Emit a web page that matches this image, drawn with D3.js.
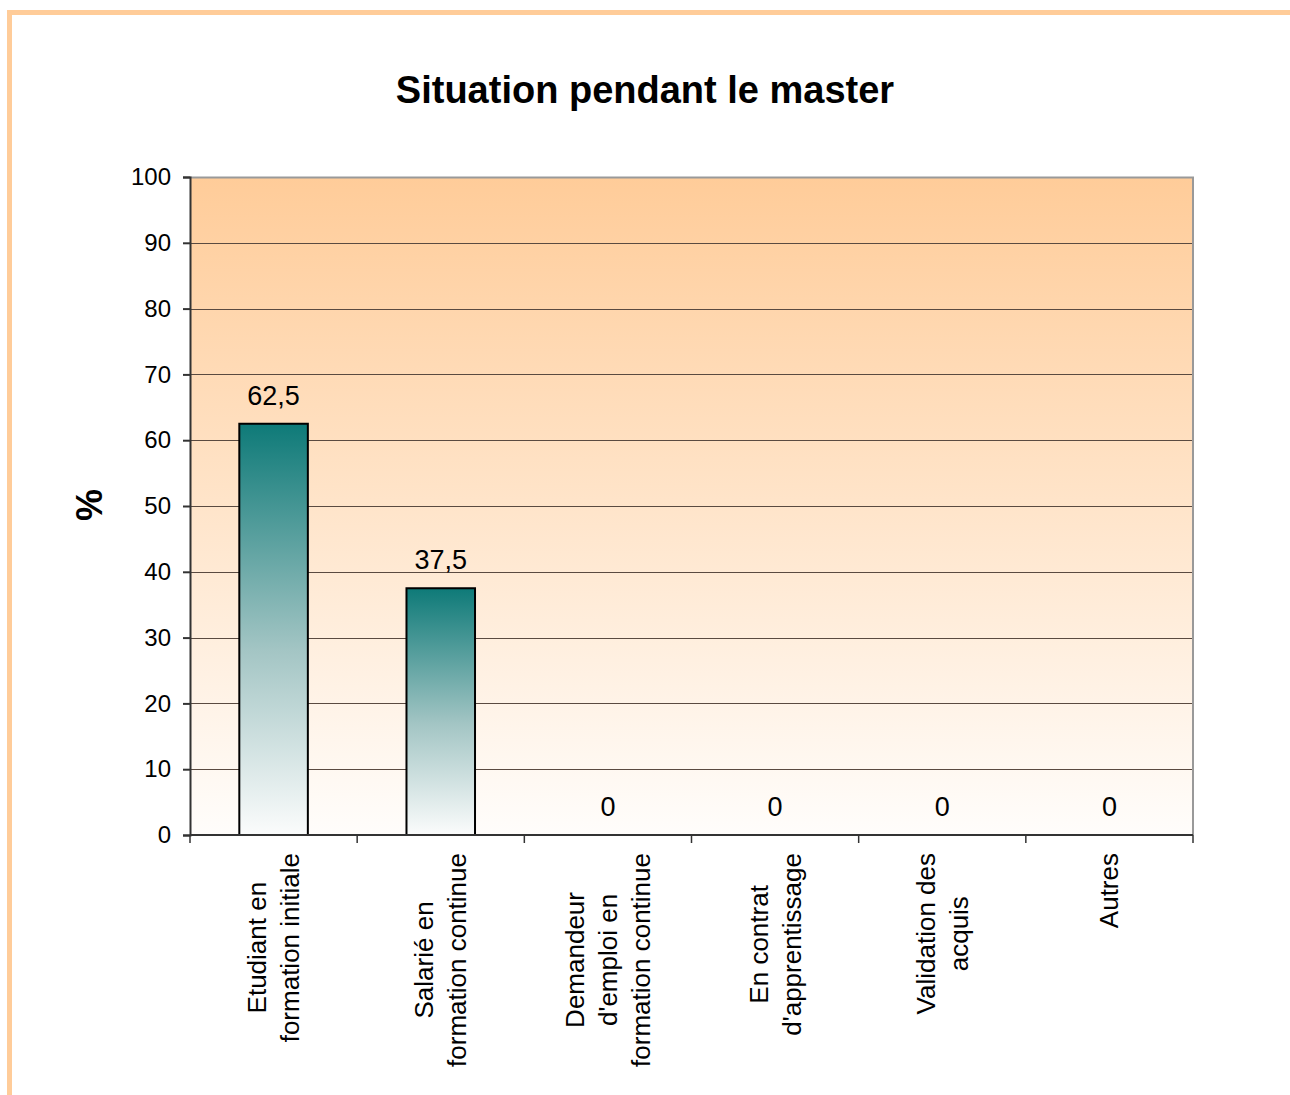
<!DOCTYPE html>
<html>
<head>
<meta charset="utf-8">
<script src="https://cdn.jsdelivr.net/npm/d3@7"></script>
<style>
  body { margin: 0; background: #fff; }
  text { font-family: "Liberation Sans", Arial, sans-serif; fill: #000; }
</style>
</head>
<body>
<div id="chart"></div>
<script>
// Data
var categories = [
  ["Etudiant en", "formation initiale"],
  ["Salarié en", "formation continue"],
  ["Demandeur", "d'emploi en", "formation continue"],
  ["En contrat", "d'apprentissage"],
  ["Validation des", "acquis"],
  ["Autres"]
];
var values = [62.5, 37.5, 0, 0, 0, 0];
var valueLabels = ["62,5", "37,5", "0", "0", "0", "0"];
var yTicks = [0, 10, 20, 30, 40, 50, 60, 70, 80, 90, 100];

var svgWidth = 1290;
var svgHeight = 1095;
var margin = { top: 177, right: 97, bottom: 260, left: 190 };
var width = svgWidth - margin.left - margin.right;
var height = svgHeight - margin.top - margin.bottom;

var svg = d3.select("#chart")
  .append("svg")
  .attr("width", svgWidth)
  .attr("height", svgHeight);

var defs = svg.append("defs");
var bg = defs.append("linearGradient").attr("id", "bgGrad")
  .attr("x1", 0).attr("y1", 0).attr("x2", 0).attr("y2", 1);
bg.append("stop").attr("offset", "0%").attr("stop-color", "#ffcc99");
bg.append("stop").attr("offset", "100%").attr("stop-color", "#fffdfb");

var barGrad = defs.append("linearGradient").attr("id", "barGrad")
  .attr("x1", 0).attr("y1", 0).attr("x2", 0).attr("y2", 1);
barGrad.append("stop").attr("offset", "0%").attr("stop-color", "#0e7a78");
barGrad.append("stop").attr("offset", "55%").attr("stop-color", "#a3c5c4");
barGrad.append("stop").attr("offset", "100%").attr("stop-color", "#fbfcfc");

// Orange frame
svg.append("rect")
  .attr("x", 9.5).attr("y", 12.5)
  .attr("width", svgWidth).attr("height", svgHeight)
  .attr("fill", "none")
  .attr("stroke", "#ffcc99")
  .attr("stroke-width", 5);

// Title
svg.append("text")
  .attr("x", 645).attr("y", 103)
  .attr("text-anchor", "middle")
  .style("font-size", "38px")
  .style("font-weight", "bold")
  .text("Situation pendant le master");

var chartGroup = svg.append("g")
  .attr("transform", `translate(${margin.left}, ${margin.top})`);

var xScale = d3.scaleBand()
  .domain(d3.range(categories.length))
  .range([0, width])
  .paddingInner(0.59)
  .paddingOuter(0.295);

var xBand = d3.scaleBand()
  .domain(d3.range(categories.length))
  .range([0, width]);

var yScale = d3.scaleLinear()
  .domain([0, 100])
  .range([height, 0]);

// Plot background
chartGroup.append("rect")
  .attr("width", width)
  .attr("height", height)
  .attr("fill", "url(#bgGrad)");

// Gridlines
chartGroup.append("g")
  .selectAll("line")
  .data(yTicks.slice(1, -1))
  .enter()
  .append("line")
  .attr("x1", 0).attr("x2", width)
  .attr("y1", d => Math.round(yScale(d)) + 0.5)
  .attr("y2", d => Math.round(yScale(d)) + 0.5)
  .attr("stroke", "#5a4a40")
  .attr("stroke-width", 1);

// Top and right border of plot
chartGroup.append("path")
  .attr("d", `M0,0.5H${width}V${height}`)
  .attr("fill", "none")
  .attr("stroke", "#999")
  .attr("stroke-width", 2);

// Bars
chartGroup.selectAll(".bar")
  .data(values)
  .enter()
  .append("rect")
  .attr("class", "bar")
  .filter(d => d > 0)
  .attr("x", (d, i) => xScale(i))
  .attr("y", d => yScale(d))
  .attr("width", xScale.bandwidth())
  .attr("height", d => height - yScale(d))
  .attr("fill", "url(#barGrad)")
  .attr("stroke", "#000")
  .attr("stroke-width", 2);

// Value labels
chartGroup.selectAll(".val")
  .data(values)
  .enter()
  .append("text")
  .attr("class", "val")
  .attr("x", (d, i) => xBand(i) + xBand.bandwidth() / 2)
  .attr("y", d => yScale(d) - 19)
  .attr("text-anchor", "middle")
  .style("font-size", "27px")
  .text((d, i) => valueLabels[i]);

// Y axis
var leftAxis = d3.axisLeft(yScale)
  .tickValues(yTicks)
  .tickSize(7)
  .tickPadding(12)
  .tickFormat(d3.format("d"));

var yAxisG = chartGroup.append("g").call(leftAxis);
yAxisG.select(".domain").attr("stroke", "#333").attr("stroke-width", 2);
yAxisG.selectAll(".tick line").attr("stroke", "#333").attr("stroke-width", 2);
yAxisG.selectAll(".tick text")
  .style("font-size", "24px")
  .style("font-family", "'Liberation Sans', Arial, sans-serif")
  .attr("fill", "#000");

// X axis (boundary ticks)
var xAxisG = chartGroup.append("g")
  .attr("transform", `translate(0, ${height})`);
xAxisG.append("line")
  .attr("x1", 0).attr("x2", width)
  .attr("stroke", "#333").attr("stroke-width", 2);
xAxisG.selectAll(".xtick")
  .data(d3.range(categories.length + 1))
  .enter()
  .append("line")
  .attr("class", "xtick")
  .attr("x1", d => d === categories.length ? width : xBand(d))
  .attr("x2", d => d === categories.length ? width : xBand(d))
  .attr("y1", 0).attr("y2", 8)
  .attr("stroke", "#333").attr("stroke-width", 1.5);

// Category labels (rotated, multi-line, centered lines)
var labelTop = 18;
var lineGap = 33;
categories.forEach(function(lines, i) {
  var cx = xBand(i) + xBand.bandwidth() / 2;
  var g = xAxisG.append("g");
  var texts = g.selectAll("text")
    .data(lines)
    .enter()
    .append("text")
    .attr("text-anchor", "middle")
    .style("font-size", "26px")
    .text(d => d);
  var maxLen = d3.max(texts.nodes(), n => n.getComputedTextLength());
  var cy = labelTop + maxLen / 2;
  texts.attr("transform", function(d, j) {
    var x = cx + (j - (lines.length - 1) / 2) * lineGap + 9;
    return `translate(${x}, ${cy}) rotate(-90)`;
  });
});

// Y axis title
svg.append("text")
  .attr("transform", `translate(102, 505) rotate(-90)`)
  .attr("text-anchor", "middle")
  .style("font-size", "36px")
  .style("font-weight", "bold")
  .text("%");
</script>
</body>
</html>
